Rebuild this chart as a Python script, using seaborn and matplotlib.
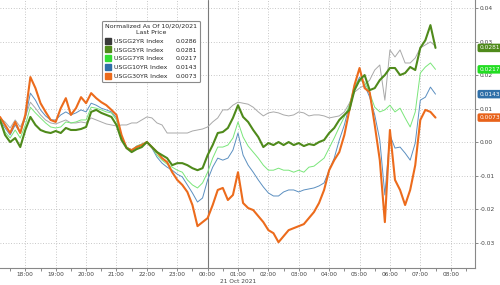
import numpy as np
import pandas as pd
import matplotlib
matplotlib.use("Agg")
import matplotlib.pyplot as plt
import matplotlib.dates as mdates
import matplotlib.transforms as mtransforms
from matplotlib.lines import Line2D
import seaborn as sns

# ---------------- data ----------------
times = pd.date_range("2021-10-20 17:10", "2021-10-21 07:30", freq="10min")

series_names = ["USGG2YR Index", "USGG5YR Index", "USGG7YR Index",
                "USGG10YR Index", "USGG30YR Index"]

usgg2yr = [0.0072, 0.0060, 0.0042, 0.0066, 0.0045, 0.0075, 0.0119, 0.0101, 0.0081, 0.0066,
           0.0057, 0.0054, 0.0060, 0.0066, 0.0057, 0.0057, 0.0060, 0.0057, 0.0072, 0.0066,
           0.0060, 0.0054, 0.0051, 0.0048, 0.0051, 0.0051, 0.0057, 0.0057, 0.0066, 0.0075,
           0.0072, 0.0057, 0.0051, 0.0027, 0.0027, 0.0027, 0.0027, 0.0027, 0.0033, 0.0036,
           0.0039, 0.0045, 0.0060, 0.0072, 0.0096, 0.0096, 0.0110, 0.0119, 0.0116, 0.0113,
           0.0104, 0.0090, 0.0078, 0.0087, 0.0090, 0.0087, 0.0081, 0.0078, 0.0081, 0.0090,
           0.0087, 0.0078, 0.0081, 0.0081, 0.0078, 0.0072, 0.0075, 0.0078, 0.0090, 0.0116,
           0.0149, 0.0161, 0.0170, 0.0185, 0.0215, 0.0230, 0.0125, 0.0275, 0.0254, 0.0275,
           0.0236, 0.0236, 0.0251, 0.0281, 0.0290, 0.0299, 0.0286]

usgg5yr = [0.0066, 0.0021, 0.0000, 0.0012, -0.0015, 0.0036, 0.0075, 0.0051, 0.0036, 0.0030,
           0.0027, 0.0033, 0.0027, 0.0042, 0.0036, 0.0036, 0.0039, 0.0045, 0.0090, 0.0096,
           0.0087, 0.0081, 0.0075, 0.0051, 0.0006, -0.0018, -0.0030, -0.0021, -0.0015, 0.0000,
           -0.0015, -0.0030, -0.0039, -0.0048, -0.0069, -0.0063, -0.0063, -0.0069, -0.0078, -0.0084,
           -0.0078, -0.0039, -0.0009, 0.0027, 0.0030, 0.0042, 0.0072, 0.0110, 0.0075, 0.0060,
           0.0036, 0.0015, -0.0015, -0.0003, -0.0009, 0.0000, -0.0009, 0.0000, -0.0009, -0.0003,
           -0.0012, -0.0006, -0.0009, 0.0000, 0.0006, 0.0027, 0.0042, 0.0066, 0.0081, 0.0096,
           0.0155, 0.0185, 0.0200, 0.0155, 0.0161, 0.0185, 0.0200, 0.0221, 0.0221, 0.0200,
           0.0206, 0.0224, 0.0215, 0.0281, 0.0304, 0.0349, 0.0281]

usgg7yr = [0.0066, 0.0030, 0.0012, 0.0036, 0.0012, 0.0051, 0.0104, 0.0087, 0.0072, 0.0057,
           0.0045, 0.0042, 0.0045, 0.0060, 0.0057, 0.0060, 0.0066, 0.0066, 0.0104, 0.0101,
           0.0096, 0.0090, 0.0087, 0.0066, 0.0012, -0.0015, -0.0024, -0.0012, -0.0006, 0.0000,
           -0.0015, -0.0039, -0.0054, -0.0066, -0.0075, -0.0084, -0.0090, -0.0113, -0.0128, -0.0137,
           -0.0122, -0.0090, -0.0048, -0.0015, -0.0015, -0.0009, 0.0012, 0.0060, 0.0015, -0.0012,
           -0.0030, -0.0048, -0.0069, -0.0084, -0.0084, -0.0078, -0.0084, -0.0084, -0.0090, -0.0084,
           -0.0090, -0.0075, -0.0072, -0.0060, -0.0048, -0.0018, 0.0012, 0.0045, 0.0075, 0.0110,
           0.0170, 0.0185, 0.0179, 0.0146, 0.0104, 0.0090, 0.0096, 0.0110, 0.0090, 0.0101,
           0.0072, 0.0045, 0.0090, 0.0206, 0.0224, 0.0236, 0.0217]

usgg10yr = [0.0066, 0.0042, 0.0021, 0.0051, 0.0027, 0.0072, 0.0146, 0.0125, 0.0096, 0.0078,
            0.0066, 0.0066, 0.0081, 0.0090, 0.0081, 0.0087, 0.0096, 0.0090, 0.0116, 0.0110,
            0.0101, 0.0096, 0.0090, 0.0072, 0.0015, -0.0015, -0.0024, -0.0012, -0.0006, 0.0000,
            -0.0018, -0.0045, -0.0063, -0.0075, -0.0084, -0.0096, -0.0104, -0.0128, -0.0152, -0.0179,
            -0.0167, -0.0113, -0.0075, -0.0048, -0.0054, -0.0048, -0.0024, 0.0027, -0.0039, -0.0069,
            -0.0090, -0.0113, -0.0134, -0.0152, -0.0161, -0.0161, -0.0149, -0.0143, -0.0143, -0.0149,
            -0.0143, -0.0140, -0.0137, -0.0131, -0.0122, -0.0084, -0.0048, 0.0006, 0.0051, 0.0110,
            0.0161, 0.0194, 0.0170, 0.0134, 0.0081, 0.0006, -0.0158, 0.0021, -0.0018, -0.0015,
            -0.0033, -0.0054, -0.0003, 0.0125, 0.0134, 0.0164, 0.0143]

usgg30yr = [0.0075, 0.0051, 0.0027, 0.0060, 0.0027, 0.0081, 0.0194, 0.0161, 0.0116, 0.0090,
            0.0066, 0.0060, 0.0101, 0.0131, 0.0081, 0.0101, 0.0134, 0.0116, 0.0146, 0.0131,
            0.0119, 0.0110, 0.0096, 0.0081, 0.0021, -0.0018, -0.0024, -0.0015, -0.0009, 0.0000,
            -0.0015, -0.0030, -0.0048, -0.0060, -0.0090, -0.0113, -0.0128, -0.0149, -0.0188, -0.0251,
            -0.0239, -0.0227, -0.0188, -0.0143, -0.0137, -0.0173, -0.0158, -0.0090, -0.0182, -0.0197,
            -0.0203, -0.0221, -0.0239, -0.0263, -0.0272, -0.0299, -0.0281, -0.0263, -0.0257, -0.0251,
            -0.0245, -0.0227, -0.0209, -0.0182, -0.0143, -0.0084, -0.0054, -0.0030, 0.0021, 0.0096,
            0.0170, 0.0221, 0.0161, 0.0149, 0.0051, -0.0054, -0.0239, 0.0036, -0.0113, -0.0143,
            -0.0188, -0.0143, -0.0069, 0.0066, 0.0096, 0.0090, 0.0073]

y_ticks = [-0.03, -0.02, -0.01, 0.00, 0.01, 0.02, 0.03, 0.04]
legend_title = "Normalized As Of 10/20/2021\nLast Price"
date_label = "21 Oct 2021"

line_colors = ["#a9a9a9", "#4f8a1b", "#7ae67a", "#5b8fc0", "#ec6b1c"]
marker_colors = ["#3a3a3a", "#4f8a1b", "#33dd33", "#2f6fa8", "#ec6b1c"]
box_colors = ["#8a8a8a", "#4f8a1b", "#22dd22", "#2f6fa8", "#e8621a"]
line_widths = [0.7, 1.5, 0.7, 0.7, 1.5]

all_values = [usgg2yr, usgg5yr, usgg7yr, usgg10yr, usgg30yr]
df = pd.concat([pd.DataFrame({"time": times, "value": v, "series": n})
                for n, v in zip(series_names, all_values)], ignore_index=True)

# ---------------- style ----------------
sns.set_theme(style="white")
plt.rcParams["font.family"] = ["DejaVu Sans"]
plt.rcParams["axes.unicode_minus"] = False

FS = 4.2
FS_LEG = 4.5

fig = plt.figure(figsize=(5.0, 2.85), dpi=100)
ax = fig.add_axes([0.0, 0.0596, 0.95, 0.9404])

palette = dict(zip(series_names, line_colors))
sizes = dict(zip(series_names, line_widths))
draw_order = [series_names[0], series_names[3], series_names[2], series_names[4], series_names[1]]

sns.lineplot(data=df, x="time", y="value", hue="series", size="series",
             hue_order=draw_order, size_order=draw_order,
             palette=palette, sizes=sizes, legend=False, ax=ax, estimator=None)

ax.set_xlim(pd.Timestamp("2021-10-20 17:10"), pd.Timestamp("2021-10-21 08:48"))
ax.set_ylim(-0.0376, 0.0424)
ax.set_xlabel("")
ax.set_ylabel("")

ax.xaxis.set_major_locator(mdates.HourLocator())
ax.xaxis.set_major_formatter(mdates.DateFormatter("%H:%M"))
ax.xaxis.set_minor_locator(mdates.MinuteLocator(byminute=[30]))
ax.yaxis.tick_right()
ax.set_yticks(y_ticks)
ax.set_yticklabels([f"{t:.2f}" for t in y_ticks])

ax.tick_params(axis="x", which="both", direction="out", length=2.5, width=0.6,
               color="#777777", labelsize=FS, labelcolor="#444444", pad=0.6, bottom=True)
ax.tick_params(axis="y", which="both", direction="out", length=2.5, width=0.6,
               color="#777777", labelsize=FS, labelcolor="#444444", pad=0.8, right=True, left=False)

ax.grid(True, which="major", linestyle=(0, (1, 2.2)), color="#b5b5b5", linewidth=0.6)
for side in ["left", "top"]:
    ax.spines[side].set_visible(False)
for side in ["right", "bottom"]:
    ax.spines[side].set_color("#888888")
    ax.spines[side].set_linewidth(0.8)

ax.axvline(pd.Timestamp("2021-10-21 00:00"), color="#7a7a7a", linewidth=0.8, zorder=1)

trans = mtransforms.blended_transform_factory(ax.transData, ax.transAxes)
ax.text(pd.Timestamp("2021-10-21 01:00"), -0.052, date_label, transform=trans,
        ha="center", va="center", fontsize=FS, color="#444444")

# right-hand last value labels (the 2YR box sits hidden under the 5YR one in the original)
trans_r = mtransforms.blended_transform_factory(ax.transAxes, ax.transData)
for name, vals, bc in list(zip(series_names, all_values, box_colors))[1:]:
    ax.text(1.009, vals[-1], f"{vals[-1]:.4f}", transform=trans_r, ha="left", va="center",
            fontsize=FS, color="white", clip_on=False, zorder=5,
            bbox=dict(boxstyle="round,pad=0.3", fc=bc, ec="none"))

# legend
name_handles = [Line2D([], [], marker="s", linestyle="none", color=c, markersize=3.8)
                for c in marker_colors]
blank_handles = [Line2D([], [], linestyle="none") for _ in series_names]
value_labels = [f"{v[-1]:.4f}" for v in all_values]
leg = ax.legend(name_handles + blank_handles, series_names + value_labels, ncol=2,
                title=legend_title, fontsize=FS_LEG, title_fontsize=FS_LEG,
                loc="upper left", bbox_to_anchor=(0.215, 0.923),
                frameon=True, fancybox=True, framealpha=1, edgecolor="#8a8a8a",
                handlelength=0.9, handletextpad=0.45, columnspacing=0.0,
                labelspacing=0.55, borderpad=0.5, borderaxespad=0.0)
leg.get_frame().set_linewidth(0.8)
leg.get_title().set_multialignment("center")
leg.get_title().set_linespacing(1.3)
leg.set_zorder(6)

fig.savefig("out.png", dpi=100)
